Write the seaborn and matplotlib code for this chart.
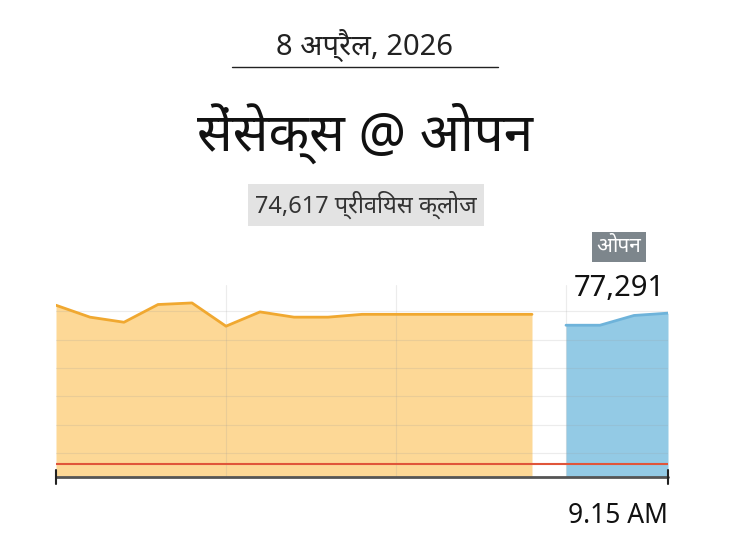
import matplotlib
matplotlib.use("Agg")
import matplotlib.pyplot as plt
import seaborn as sns
import pandas as pd
import numpy as np

sns.set_theme(style="white")
plt.rcParams['font.family'] = ['Noto Sans', 'DejaVu Sans']

prev_close = 74617
orange_vals = [77431, 77220, 77130, 77444, 77472, 77060, 77313, 77220, 77220, 77270, 77270, 77270, 77270, 77270, 77270]
blue_vals = [77077, 77077, 77250, 77291]
grid_vals = [74812, 75315, 75818, 76321, 76824, 77327]

ox = list(range(len(orange_vals)))
bx = [15, 16, 17, 18]
df_o = pd.DataFrame({"x": ox, "v": orange_vals})
df_b = pd.DataFrame({"x": bx, "v": blue_vals})

fig = plt.figure(figsize=(7.30, 5.48), dpi=100)
ax = fig.add_axes([56/730, 1-477/548, (668-56)/730, (477-285)/548])
ymin, ymax = 74387, 77790
ax.set_ylim(ymin, ymax)
ax.set_xlim(0, 18)

ax.fill_between(df_o.x, df_o.v, ymin, color="#FDD896", lw=0, zorder=1)
ax.fill_between(df_b.x, df_b.v, ymin, color="#93CAE5", lw=0, zorder=1)
for g in grid_vals:
    ax.axhline(g, color="#999999", alpha=0.18, lw=0.8, zorder=1.5)
for gx in [5, 10, 15]:
    ax.axvline(gx, color="#999999", alpha=0.18, lw=0.8, zorder=1.5)
sns.lineplot(data=df_o, x="x", y="v", ax=ax, color="#F0A830", lw=2, zorder=2)
sns.lineplot(data=df_b, x="x", y="v", ax=ax, color="#6EB3DA", lw=2, zorder=2)
ax.axhline(prev_close, color="#E0553A", lw=1.5, zorder=3)

for s in ax.spines.values():
    s.set_visible(False)
ax.set_xticks([]); ax.set_yticks([])
ax.set_xlabel(""); ax.set_ylabel("")
ax.plot([0, 18], [ymin, ymin], color="#555555", lw=2, clip_on=False, zorder=4)
for xe in [0, 18]:
    ax.plot([xe, xe], [ymin - 120, ymin + 120], color="#222222", lw=1.5, clip_on=False, zorder=4)

fig.text(0.5, 1-45/548, "8 अप्रैल, 2026", ha="center", va="center", fontsize=21, fontweight="bold", color="#222222")
fig.add_artist(plt.Line2D([232/730, 498/730], [1-67/548, 1-67/548], color="#222222", lw=1))
fig.text(0.5, 1-133/548, "सेंसेक्स @ ओपन", ha="center", va="center", fontsize=38, fontweight="bold", color="#111111")
fig.text(366/730, 1-205/548, "74,617 प्रीवियस क्लोज", ha="center", va="center", fontsize=17, fontweight="bold", color="#333333",
         bbox=dict(boxstyle="square,pad=0.3", fc="#e3e3e3", ec="none"))
fig.text(619/730, 1-247/548, "ओपन", ha="center", va="center", fontsize=15, fontweight="bold", color="white",
         bbox=dict(boxstyle="square,pad=0.2", fc="#7d868c", ec="none"))
fig.text(619/730, 1-288/548, "77,291", ha="center", va="center", fontsize=21, color="#111111", fontstretch="condensed")
fig.text(618/730, 1-516/548, "9.15 AM", ha="center", va="center", fontsize=19, fontweight="bold", color="#111111")

fig.savefig("out.png", dpi=100)
